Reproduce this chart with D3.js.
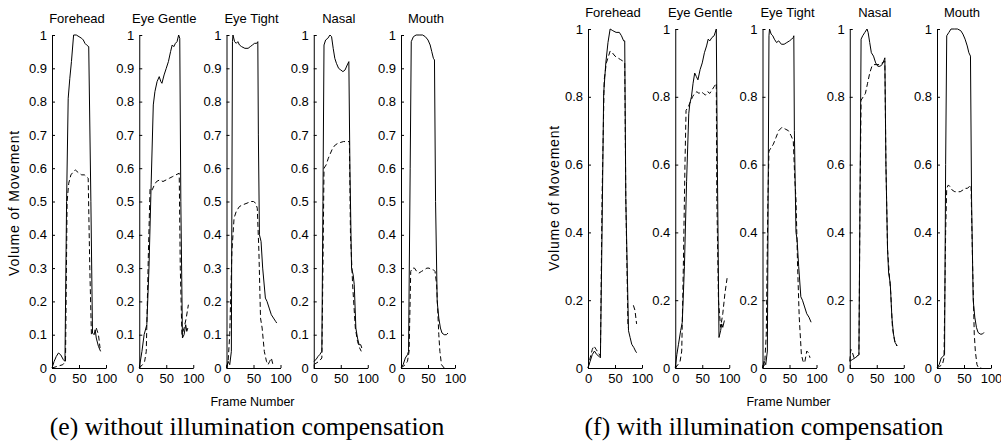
<!DOCTYPE html>
<meta charset="utf-8">
<script src="https://d3js.org/d3.v7.min.js"></script>
<style>
body { margin: 0; background: #fff; }
svg text { fill: #000; }
.tick text { font-family: "Liberation Sans Narrow", "Liberation Sans", Arial, sans-serif; font-size: 13px; }
.title, .xlab, .ylab { font-family: "Liberation Sans", Arial, sans-serif; }
.caption { font-family: "Liberation Serif", "Times New Roman", serif; font-size: 25.7px; }
</style>
<div id="chart"></div>
<script>
// facial regions, one small plot each
var regionNames = ["Forehead", "Eye Gentle", "Eye Tight", "Nasal", "Mouth"];
var frameTicks = [0, 50, 100];
var yTicksE = [0, 0.1, 0.2, 0.3, 0.4, 0.5, 0.6, 0.7, 0.8, 0.9, 1];
var yTicksF = [0, 0.2, 0.4, 0.6, 0.8, 1];
var captions = ["(e) without illumination compensation", "(f) with illumination compensation"];

// [frame, volume] ; null = gap in the curve
// (e) without compensation
var foreheadSolidE = [[0,0],[4,0.02],[8,0.035],[12,0.045],[16,0.04],[21,0.025],[24,0.02],[27,0.5],[30,0.81],[33,0.87],[36,0.92],[40,1.0],[45,1.0],[50,0.995],[55,0.99],[58,0.985],[61,0.975],[64,0.97],[68,0.965],[72,0.5],[75,0.105],[78,0.1],[80,0.115],[82,0.09],[86,0.065],[90,0.05]];
var foreheadDashedE = [[0,0],[10,0.005],[20,0.01],[25,0.02],[28,0.5],[31,0.555],[35,0.58],[40,0.59],[43,0.595],[50,0.585],[55,0.58],[60,0.58],[67,0.57],[70,0.3],[73,0.1],[75,null],[82,0.12],[86,0.1],[89,0.06]];
var eyeGentleSolidE = [[0,0],[5,0.05],[9,0.1],[14,0.13],[18,0.3],[22,0.55],[26,0.79],[29,0.83],[33,0.86],[37,0.875],[40,0.86],[42,0.855],[46,0.88],[50,0.9],[54,0.92],[58,0.95],[61,0.97],[64,0.965],[67,0.975],[70,0.98],[73,1.0],[75,0.99],[77,0.5],[80,0.09],[83,0.1],[86,0.13],[88,0.11],[90,0.12]];
var eyeGentleDashedE = [[0,0],[6,0.01],[10,0.02],[13,0.05],[17,0.35],[20,0.54],[24,0.535],[28,0.55],[32,0.56],[38,0.565],[44,0.56],[50,0.565],[56,0.57],[62,0.575],[68,0.58],[74,0.585],[76,0.3],[79,0.1],[83,0.12],[87,0.15],[91,0.19]];
var eyeTightSolidE = [[0,0],[3,0.02],[6,0.01],[9,0.05],[11,0.98],[12,1.0],[15,0.98],[18,0.975],[21,0.98],[24,0.97],[28,0.965],[34,0.96],[40,0.96],[44,0.965],[48,0.97],[52,0.975],[56,0.975],[58,0.98],[59,0.7],[61,0.4],[64,0.38],[67,0.3],[72,0.21],[75,0.2],[79,0.18],[83,0.16],[87,0.15],[91,0.14],[93,0.135]];
var eyeTightDashedE = [[0,0],[3,0.02],[6,0.1],[10,0.35],[14,0.45],[18,0.47],[24,0.485],[30,0.49],[38,0.495],[45,0.5],[50,0.5],[54,0.495],[57,0.48],[60,0.35],[63,0.15],[66,0.12],[70,0.05],[74,0.02],[77,0.01],[80,0.02],[83,0.03],[86,0.01]];
var nasalSolidE = [[0,0.02],[4,0.025],[8,0.035],[11,0.04],[15,0.05],[17,0.5],[19,0.97],[22,0.985],[26,0.99],[30,1.0],[33,0.995],[36,0.96],[39,0.93],[42,0.915],[46,0.9],[50,0.895],[54,0.89],[58,0.895],[62,0.91],[65,0.92],[67,0.6],[70,0.3],[73,0.28],[75,0.25],[78,0.12],[81,0.09],[84,0.07],[87,0.07],[89,0.06]];
var nasalDashedE = [[0,0.01],[10,0.02],[15,0.03],[17,0.3],[19,0.6],[23,0.61],[27,0.63],[31,0.645],[35,0.66],[40,0.67],[45,0.675],[55,0.68],[62,0.68],[66,0.68],[68,0.4],[72,0.25],[77,0.12],[81,0.08],[85,0.06],[88,0.05]];
var mouthSolidE = [[0,0],[4,0.01],[8,0.03],[12,0.04],[14,0.05],[17,0.6],[19,0.98],[23,0.995],[28,1.0],[35,1.0],[40,1.0],[45,0.995],[50,0.985],[54,0.97],[57,0.95],[60,0.93],[62,0.925],[64,0.5],[67,0.2],[70,0.15],[73,0.12],[76,0.105],[80,0.1],[84,0.1],[87,0.105]];
var mouthDashedE = [[0,0],[8,0.01],[12,0.02],[15,0.05],[18,0.29],[21,0.3],[25,0.3],[29,0.29],[33,0.285],[38,0.29],[43,0.295],[48,0.3],[52,0.3],[56,0.295],[60,0.295],[63,0.29],[66,0.25],[70,0.1],[72,0.05],[75,0.01],[80,0]];

// (f) with compensation
var foreheadSolidF = [[0,0],[4,0.02],[8,0.04],[12,0.05],[16,0.04],[20,0.035],[23,0.03],[26,0.4],[29,0.81],[33,0.9],[37,0.96],[41,1.0],[46,0.995],[52,0.99],[58,0.99],[62,0.98],[66,0.965],[68,0.965],[70,0.5],[75,0.11],[78,0.09],[81,0.07],[85,0.06],[88,0.05],[90,0.045]];
var foreheadDashedF = [[0,0],[4,0.03],[8,0.055],[11,0.065],[15,0.055],[19,0.045],[23,0.035],[26,0.5],[30,0.85],[34,0.9],[38,0.92],[41,0.935],[45,0.93],[50,0.92],[55,0.915],[60,0.91],[65,0.905],[68,0.9],[70,0.5],[74,0.12],[76,null],[84,0.185],[87,0.17],[90,0.13]];
var eyeGentleSolidF = [[0,0],[3,0.04],[6,0.07],[10,0.11],[13,0.135],[17,0.3],[21,0.55],[25,0.75],[27,0.78],[30,0.8],[33,0.84],[36,0.87],[39,0.86],[42,0.85],[46,0.88],[50,0.9],[54,0.93],[58,0.95],[61,0.97],[64,0.965],[68,0.975],[72,0.98],[76,1.0],[78,0.6],[81,0.09],[84,0.11],[86,0.13],[88,0.12],[91,0.14]];
var eyeGentleDashedF = [[0,0],[5,0.01],[9,0.02],[12,0.05],[15,0.3],[18,0.6],[20,0.76],[24,0.77],[28,0.785],[32,0.8],[36,0.81],[40,0.815],[44,0.81],[48,0.815],[52,0.81],[56,0.805],[60,0.815],[64,0.81],[68,0.82],[72,0.83],[76,0.84],[77,0.5],[80,0.2],[84,0.12],[88,0.16],[92,0.22],[96,0.265]];
var eyeTightSolidF = [[0,0],[3,0.02],[6,0.01],[9,0.05],[12,0.98],[13,1.0],[16,0.985],[19,0.98],[22,0.97],[26,0.96],[30,0.965],[35,0.955],[40,0.955],[45,0.96],[50,0.965],[54,0.97],[57,0.975],[58,0.98],[59,0.7],[62,0.4],[64,0.38],[67,0.3],[71,0.21],[74,0.2],[78,0.18],[82,0.16],[86,0.15],[90,0.135]];
var eyeTightDashedF = [[0,0],[4,0.01],[7,0.1],[10,0.5],[12,0.64],[16,0.65],[20,0.66],[25,0.68],[30,0.7],[36,0.71],[42,0.705],[48,0.7],[53,0.685],[57,0.67],[60,0.55],[62,0.5],[65,0.3],[68,0.15],[72,0.04],[75,0.02],[78,0.015],[82,0.05],[85,0.045],[88,0.03]];
var nasalSolidF = [[0,0.02],[5,0.025],[10,0.03],[14,0.035],[17,0.04],[19,0.5],[21,0.97],[24,0.98],[28,0.99],[32,1.0],[34,0.99],[37,0.96],[40,0.93],[44,0.92],[48,0.9],[52,0.89],[56,0.89],[60,0.895],[64,0.91],[65,0.915],[67,0.6],[70,0.35],[72,0.28],[75,0.25],[78,0.15],[81,0.1],[84,0.075],[88,0.065]];
var nasalDashedF = [[0,0.02],[2,0.055],[4,0.05],[8,0.03],[14,0.035],[17,0.04],[19,0.5],[21,0.79],[25,0.8],[29,0.81],[33,0.84],[37,0.87],[41,0.89],[45,0.895],[50,0.895],[55,0.895],[60,0.9],[65,0.905],[67,0.6],[70,0.35],[73,0.28],[76,0.22],[79,0.12],[83,0.08],[87,0.065]];
var mouthSolidF = [[0,0],[4,0.01],[8,0.03],[12,0.035],[14,0.04],[16,0.6],[18,0.98],[22,0.99],[26,1.0],[32,1.0],[38,1.0],[44,0.995],[48,0.985],[52,0.97],[56,0.95],[59,0.93],[62,0.92],[64,0.5],[67,0.2],[70,0.15],[73,0.12],[76,0.105],[80,0.1],[84,0.1],[87,0.105]];
var mouthDashedF = [[0,0],[5,0.005],[10,0.01],[13,0.03],[16,0.4],[18,0.53],[21,0.54],[24,0.535],[28,0.525],[33,0.52],[38,0.52],[43,0.52],[48,0.525],[52,0.53],[56,0.53],[60,0.535],[63,0.54],[66,0.3],[69,0.1],[71,0.05],[74,0.01],[77,0],[82,0]];

var seriesE = [
  [foreheadSolidE, foreheadDashedE], [eyeGentleSolidE, eyeGentleDashedE], [eyeTightSolidE, eyeTightDashedE],
  [nasalSolidE, nasalDashedE], [mouthSolidE, mouthDashedE]
];
var seriesF = [
  [foreheadSolidF, foreheadDashedF], [eyeGentleSolidF, eyeGentleDashedF], [eyeTightSolidF, eyeTightDashedF],
  [nasalSolidF, nasalDashedF], [mouthSolidF, mouthDashedF]
];

var width = 1001, height = 446;

var svg = d3.select("#chart").append("svg")
  .attr("width", width)
  .attr("height", height);

// layout of the two figure halves
var panels = [
  { series: seriesE, ticks: yTicksE, left: 52, top: 35, bottom: 368, caption: captions[0], capX: 247, ylabX: 19, ylabY: 203 },
  { series: seriesF, ticks: yTicksF, left: 588, top: 29, bottom: 368, caption: captions[1], capX: 764, ylabX: 559, ylabY: 198 }
];
var step = 87.25, plotW = 54;

var line = d3.line()
  .defined(function(d){ return d[1] != null; });

panels.forEach(function(p) {
  var y = d3.scaleLinear().domain([0, 1]).range([p.bottom, p.top]);

  p.series.forEach(function(s, i) {
    var x0 = p.left + i * step;
    var x = d3.scaleLinear().domain([0, 100]).range([x0, x0 + plotW]);
    var g = svg.append("g");

    line.x(function(d){ return x(d[0]); }).y(function(d){ return y(d[1]); });

    g.append("path")
      .attr("d", line(s[1]))
      .attr("fill", "none")
      .attr("stroke", "#000")
      .attr("stroke-width", 1)
      .attr("stroke-dasharray", "5,3");
    g.append("path")
      .attr("d", line(s[0]))
      .attr("fill", "none")
      .attr("stroke", "#000")
      .attr("stroke-width", 1);

    // axes, matlab style ticks pointing in
    g.append("g")
      .attr("transform", "translate(" + x0 + ",0)")
      .call(d3.axisLeft(y).tickValues(p.ticks).tickFormat(function(d){ return String(d); })
        .tickSize(-3).tickSizeOuter(0).tickPadding(5));
    g.append("g")
      .attr("transform", "translate(0," + p.bottom + ")")
      .call(d3.axisBottom(x).tickValues(frameTicks).tickFormat(function(d){ return String(d); })
        .tickSize(-3).tickSizeOuter(0).tickPadding(6));

    g.append("text")
      .attr("class", "title")
      .attr("x", x0 + plotW / 2 - 2)
      .attr("y", p.top - 12)
      .attr("text-anchor", "middle")
      .style("font-size", "13px")
      .text(regionNames[i]);

    if (i == 2) {
      g.append("text")
        .attr("class", "xlab")
        .attr("x", x0 + plotW / 2 - 1)
        .attr("y", 406)
        .attr("text-anchor", "middle")
        .style("font-size", "12.5px")
        .text("Frame Number");
    }
  });

  svg.append("text")
    .attr("class", "ylab")
    .attr("transform", "translate(" + p.ylabX + "," + p.ylabY + ") rotate(-90)")
    .attr("text-anchor", "middle")
    .style("font-size", "14px")
    .style("letter-spacing", "0.8px")
    .text("Volume of Movement");

  svg.append("text")
    .attr("class", "caption")
    .attr("x", p.capX)
    .attr("y", 435)
    .attr("text-anchor", "middle")
    .text(p.caption);
});

svg.selectAll(".domain").attr("stroke", "#000");
svg.selectAll(".tick line").attr("stroke", "#000");
svg.selectAll(".tick text").attr("fill", "#000");
</script>
